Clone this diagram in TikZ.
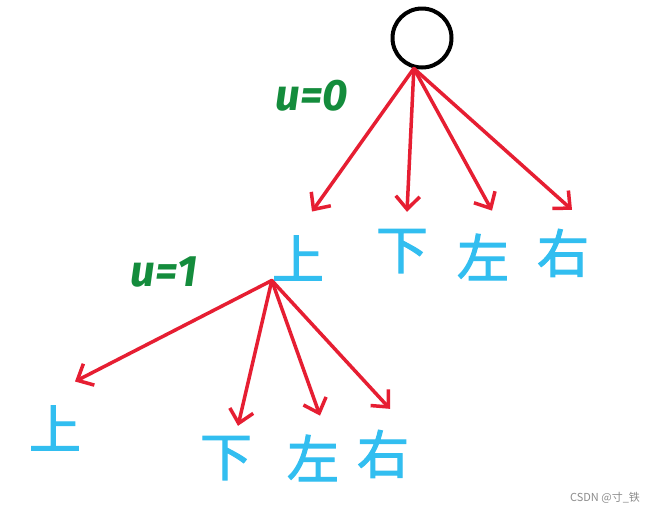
\documentclass[tikz,border=0pt]{standalone}
\usepackage{fontspec}
\newfontfamily\cjk{Noto Sans CJK SC}
\newfontfamily\cjkpen{Noto Sans CJK SC}[FakeBold=2]
\setsansfont{Fira Sans}
\usetikzlibrary{arrows.meta, calc}

\definecolor{penred}{RGB}{230,30,50}
\definecolor{penblue}{RGB}{50,190,240}
\definecolor{pengreen}{RGB}{20,140,60}

\begin{document}
\begin{tikzpicture}[
    x=1pt, y=-1pt,
    >={Straight Barb[length=13pt, width=24pt]},
    edge/.style={->, draw=penred, line width=3.5pt, line cap=round},
    dir/.style={text=penblue, inner sep=0pt,
                font=\cjkpen\fontsize{52}{52}\selectfont},
    level/.style={text=pengreen, inner sep=0pt,
                  font=\sffamily\bfseries\itshape\fontsize{44}{44}\selectfont},
]
    \useasboundingbox[fill=white] (0,0) rectangle (661,515);

    % Root
    \node[circle, draw, line width=4pt, minimum size=59pt, inner sep=0pt] (root) at (422,38) {};

    % First level
    \node[dir] (tup) at (298,258) {上};
    \node[dir] (tdown) at (402,251) {下};
    \node[dir] (tleft) at (483,257) {左};
    \node[dir] (tright) at (563,253) {右};
    \node[level] (u0) at (312,96) {u=0};

    \draw[edge] (root.255) -- ($(tup.north)+(14,-24)$);
    \draw[edge] (root.255) -- ($(tdown.north)+(5,-17)$);
    \draw[edge] (root.255) -- ($(tleft.north)+(9,-23)$);
    \draw[edge] (root.255) -- ($(tright.north)+(9,-19)$);

    % Second level, below the first "up"
    \node[dir] (dup) at (55,428) {上};
    \node[dir] (ddown) at (226,458) {下};
    \node[dir] (dleft) at (313,458) {左};
    \node[dir] (dright) at (383,454) {右};
    \node[level] (u1) at (164,272) {u=1};

    \draw[edge] (tup.south west) -- ($(dup.north)+(20,-24)$);
    \draw[edge] (tup.south west) -- ($(ddown.north)+(12,-10)$);
    \draw[edge] (tup.south west) -- ($(dleft.north)+(7,-19)$);
    \draw[edge] (tup.south west) -- ($(dright.north)+(7,-21)$);

    % Watermark
    \node[text=black!45, font=\cjk\fontsize{11}{11}\selectfont] (mark) at (605,498) {CSDN @寸\_铁};
\end{tikzpicture}
\end{document}
